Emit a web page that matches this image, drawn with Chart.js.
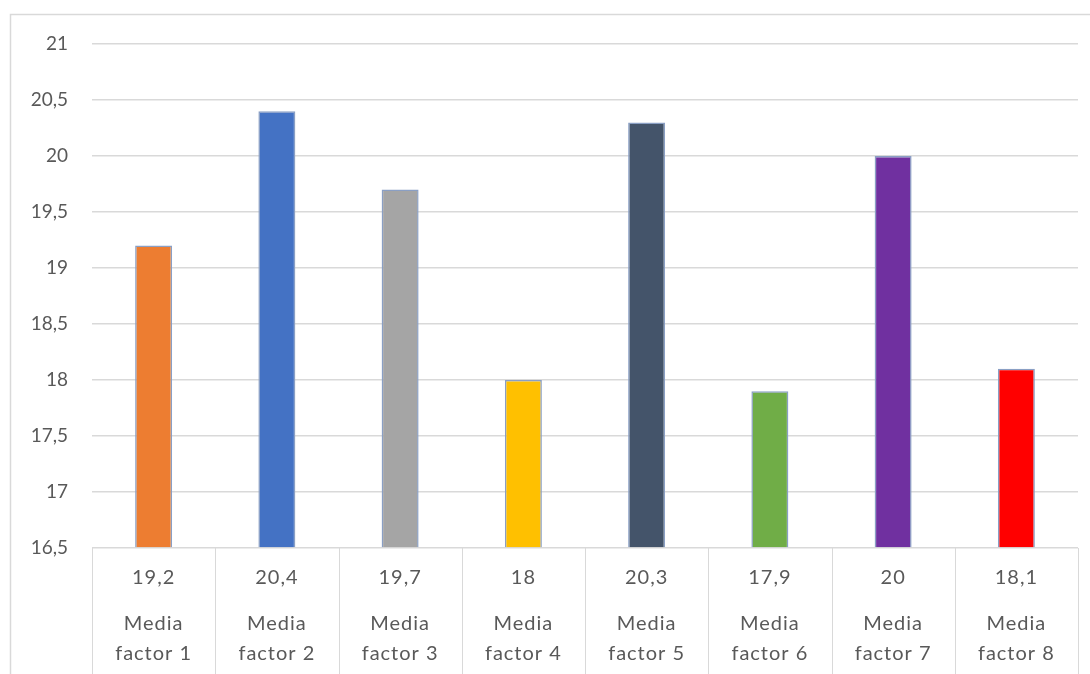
<!DOCTYPE html>
<html>
<head>
<meta charset="utf-8">
<script src="https://cdn.jsdelivr.net/npm/chart.js@4/dist/chart.umd.min.js"></script>
<style>
  html, body { margin: 0; padding: 0; background: #fff; }
  #wrap { width: 1090px; height: 674px; }
</style>
</head>
<body>
<div id="wrap"><canvas id="mediaChart" width="1090" height="674"></canvas></div>
<script>
var categories = ['Media factor 1', 'Media factor 2', 'Media factor 3', 'Media factor 4',
                  'Media factor 5', 'Media factor 6', 'Media factor 7', 'Media factor 8'];
var values = [19.2, 20.4, 19.7, 18, 20.3, 17.9, 20, 18.1];
var barColors = ['#ED7D31', '#4472C4', '#A5A5A5', '#FFC000', '#44546A', '#70AD47', '#7030A0', '#FF0000'];
var yTicks = [16.5, 17, 17.5, 18, 18.5, 19, 19.5, 20, 20.5, 21];

var textColor = '#595959';
var lineColor = '#d9d9d9';
var fontName = 'Lato, "Liberation Sans", sans-serif';

function commaNum(v) {
    return String(Math.round(v * 10) / 10).replace('.', ',');
}

// frame + data table under the plot (Excel style)
var tablePlugin = {
    id: 'dataTable',
    beforeDraw: function (chart) {
        var c = chart.ctx;
        c.save();
        c.strokeStyle = lineColor;
        c.lineWidth = 1.5;
        c.strokeRect(10.5, 14.5, 1100, 700);
        c.restore();
    },
    afterDraw: function (chart) {
        var c = chart.ctx;
        var x = chart.scales.x;
        var area = chart.chartArea;
        var n = categories.length;
        var step = (area.right - area.left) / n;
        c.save();
        c.strokeStyle = lineColor;
        c.lineWidth = 1;
        for (var k = 0; k <= n; k++) {
            var lx = Math.round(area.left + k * step) + 0.5;
            c.beginPath();
            c.moveTo(lx, area.bottom);
            c.lineTo(lx, chart.height);
            c.stroke();
        }
        c.fillStyle = textColor;
        c.textAlign = 'center';
        c.textBaseline = 'middle';
        c.font = '20px ' + fontName;
        if ('letterSpacing' in c) c.letterSpacing = '1px';
        for (var i = 0; i < n; i++) {
            var cx = x.getPixelForValue(i);
            var parts = categories[i].split(' ');
            c.fillText(commaNum(values[i]), cx, area.bottom + 30);
            c.fillText(parts[0], cx, area.bottom + 76);
            c.fillText(parts.slice(1).join(' '), cx, area.bottom + 106);
        }
        c.restore();
    }
};

var ctx = document.getElementById('mediaChart').getContext('2d');
var mediaChart = new Chart(ctx, {
    type: 'bar',
    data: {
        labels: categories,
        datasets: [{
            data: values,
            backgroundColor: barColors,
            borderColor: '#8A9FC4',
            borderWidth: 1.5,
            categoryPercentage: 1,
            barPercentage: 0.3,
            base: 16.5
        }]
    },
    plugins: [tablePlugin],
    options: {
        responsive: false,
        animation: false,
        layout: { padding: { top: 44, right: 12, left: 10, bottom: 0 } },
        plugins: { legend: { display: false }, tooltip: { enabled: false } },
        scales: {
            x: {
                grid: { display: false },
                border: { display: false },
                ticks: { display: false },
                afterFit: function (s) { s.height = 126; }
            },
            y: {
                min: 16.5,
                max: 21,
                afterBuildTicks: function (s) {
                    s.ticks = yTicks.map(function (v) { return { value: v }; });
                },
                grid: { color: lineColor, lineWidth: 1.5, drawTicks: false },
                border: { display: false },
                ticks: {
                    color: textColor,
                    font: { family: fontName, size: 19 },
                    padding: 24,
                    callback: function (v) { return commaNum(v); }
                },
                afterFit: function (s) { s.width = 82; }
            }
        }
    }
});
</script>
</body>
</html>
